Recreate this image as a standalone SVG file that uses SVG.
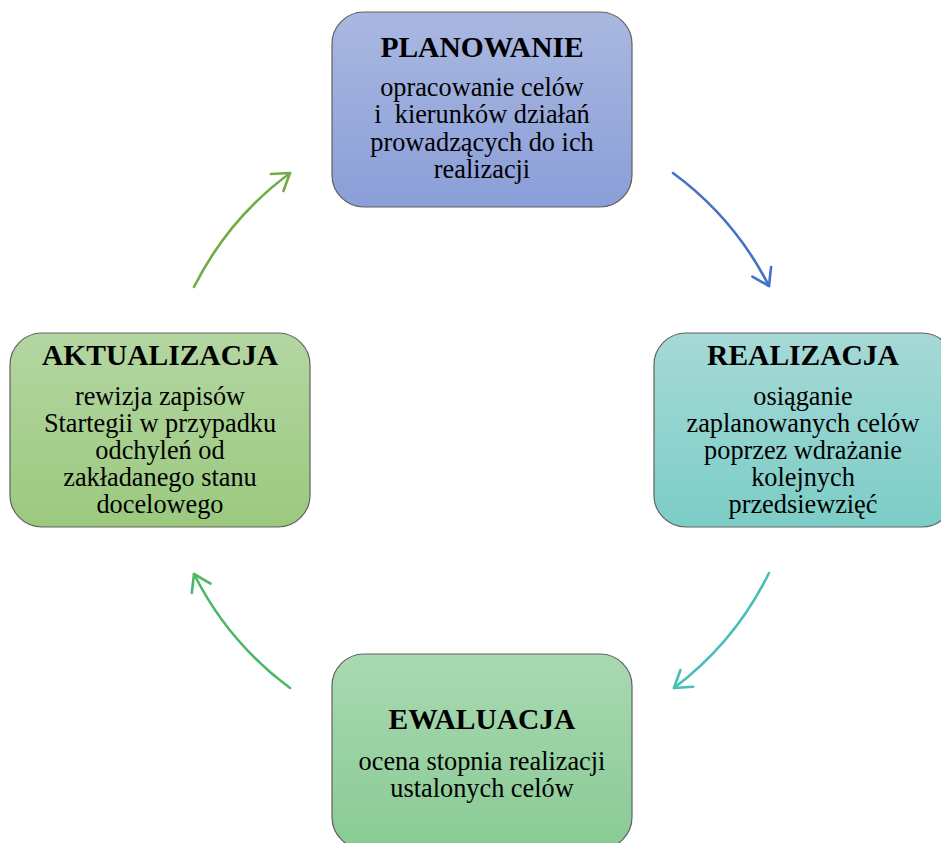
<svg xmlns="http://www.w3.org/2000/svg" width="941" height="843" viewBox="0 0 941 843">
<style>
.box{stroke:#606060;stroke-width:1.2}
.t{font-family:"Liberation Serif","Times New Roman",serif;font-weight:bold;font-size:29.5px;fill:#000;text-anchor:middle}
.b{font-family:"Liberation Serif","Times New Roman",serif;font-size:26.3px;fill:#000;text-anchor:middle;white-space:pre}
.c{fill:none;stroke-width:2.6;stroke-linecap:round}
</style>
<defs>
<linearGradient id="gP" x1="0" y1="0" x2="0" y2="1"><stop offset="0" stop-color="#aab8e0"/><stop offset="1" stop-color="#8a9ed8"/></linearGradient>
<linearGradient id="gR" x1="0" y1="0" x2="0" y2="1"><stop offset="0" stop-color="#a6d9d6"/><stop offset="1" stop-color="#7ccdc7"/></linearGradient>
<linearGradient id="gA" x1="0" y1="0" x2="0" y2="1"><stop offset="0" stop-color="#b4d6a2"/><stop offset="1" stop-color="#9bc97e"/></linearGradient>
<linearGradient id="gE" x1="0" y1="0" x2="0" y2="1"><stop offset="0" stop-color="#a9d9b2"/><stop offset="1" stop-color="#89ca94"/></linearGradient>
<marker id="m1" markerUnits="userSpaceOnUse" viewBox="-20 -13 23 26" markerWidth="23" markerHeight="26" refX="0" refY="0" orient="auto"><path d="M-16,-10.5 L0,0 L-16,10.5" fill="none" stroke="#4472c4" stroke-width="2.6" stroke-linecap="round" stroke-linejoin="round"/></marker>
<marker id="m2" markerUnits="userSpaceOnUse" viewBox="-20 -13 23 26" markerWidth="23" markerHeight="26" refX="0" refY="0" orient="auto"><path d="M-16,-10.5 L0,0 L-16,10.5" fill="none" stroke="#47bfb6" stroke-width="2.6" stroke-linecap="round" stroke-linejoin="round"/></marker>
<marker id="m3" markerUnits="userSpaceOnUse" viewBox="-20 -13 23 26" markerWidth="23" markerHeight="26" refX="0" refY="0" orient="auto"><path d="M-16,-10.5 L0,0 L-16,10.5" fill="none" stroke="#4cb866" stroke-width="2.6" stroke-linecap="round" stroke-linejoin="round"/></marker>
<marker id="m4" markerUnits="userSpaceOnUse" viewBox="-20 -13 23 26" markerWidth="23" markerHeight="26" refX="0" refY="0" orient="auto"><path d="M-16,-10.5 L0,0 L-16,10.5" fill="none" stroke="#70ad47" stroke-width="2.6" stroke-linecap="round" stroke-linejoin="round"/></marker>
</defs>
<rect width="941" height="843" fill="#ffffff"/>
<g id="connectors">
<path class="c" stroke="#4472c4" d="M673,173 A321,321 0 0 1 769,286" marker-end="url(#m1)"/>
<path class="c" stroke="#47bfb6" d="M769,573 A321,321 0 0 1 674,688" marker-end="url(#m2)"/>
<path class="c" stroke="#4cb866" d="M290,688 A321,321 0 0 1 194,574" marker-end="url(#m3)"/>
<path class="c" stroke="#70ad47" d="M194,287 A321,321 0 0 1 290,173" marker-end="url(#m4)"/>
</g>
<g id="planowanie">
<rect class="box" x="332" y="12" width="300" height="195" rx="32" fill="url(#gP)"/>
<text class="t" x="482" y="57">PLANOWANIE</text>
<text class="b" x="482" y="96">opracowanie celów</text>
<text class="b" x="482" y="123.3">i  kierunków działań</text>
<text class="b" x="482" y="150.6">prowadzących do ich</text>
<text class="b" x="482" y="178">realizacji</text>
</g>
<g id="realizacja">
<rect class="box" x="654" y="333" width="300" height="194" rx="32" fill="url(#gR)"/>
<text class="t" x="803" y="365">REALIZACJA</text>
<text class="b" x="803" y="405">osiąganie</text>
<text class="b" x="803" y="432">zaplanowanych celów</text>
<text class="b" x="803" y="459">poprzez wdrażanie</text>
<text class="b" x="803" y="486">kolejnych</text>
<text class="b" x="803" y="513">przedsiewzięć</text>
</g>
<g id="aktualizacja">
<rect class="box" x="10" y="333" width="300" height="194" rx="32" fill="url(#gA)"/>
<text class="t" x="160" y="365">AKTUALIZACJA</text>
<text class="b" x="160" y="405">rewizja zapisów</text>
<text class="b" x="160" y="432">Startegii w przypadku</text>
<text class="b" x="160" y="459">odchyleń od</text>
<text class="b" x="160" y="486">zakładanego stanu</text>
<text class="b" x="160" y="513">docelowego</text>
</g>
<g id="ewaluacja">
<rect class="box" x="332" y="654" width="300" height="195" rx="32" fill="url(#gE)"/>
<text class="t" x="482" y="729">EWALUACJA</text>
<text class="b" x="482" y="770">ocena stopnia realizacji</text>
<text class="b" x="482" y="797">ustalonych celów</text>
</g>
</svg>
